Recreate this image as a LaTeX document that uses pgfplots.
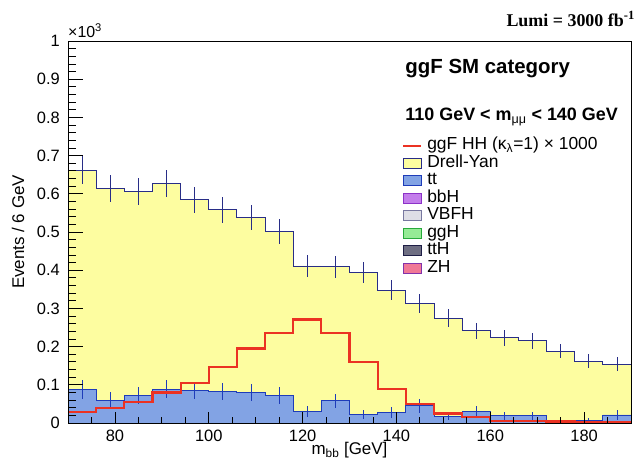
\documentclass[border=0pt]{standalone}
\usepackage{fontspec}
\setmainfont{Liberation Sans}
\newfontfamily\serifbf{Liberation Serif}
\usepackage{pgfplots}
\pgfplotsset{compat=1.18}

\definecolor{dyfill}{RGB}{253,253,160}
\definecolor{dyline}{RGB}{40,45,135}
\definecolor{ttfill}{RGB}{130,163,228}
\definecolor{ttline}{RGB}{30,60,185}
\definecolor{hhred}{RGB}{235,50,35}
\definecolor{bbhfill}{RGB}{195,125,235}
\definecolor{bbhline}{RGB}{140,50,200}
\definecolor{vbffill}{RGB}{222,222,230}
\definecolor{vbfline}{RGB}{120,120,160}
\definecolor{gghfill}{RGB}{150,235,150}
\definecolor{gghline}{RGB}{40,170,60}
\definecolor{tthfill}{RGB}{110,110,130}
\definecolor{tthline}{RGB}{30,30,70}
\definecolor{zhfill}{RGB}{240,120,150}
\definecolor{zhline}{RGB}{130,50,170}

\pgfplotsset{
  myarea/.style={legend image code/.code={\draw[##1] (0bp,-5bp) rectangle (18bp,5bp);}},
  myline/.style={legend image code/.code={\draw[##1] (0bp,0bp) -- (18bp,0bp);}},
  tickbars/.style={draw=none, mark=none, forget plot,
    error bars/error mark=none,
    error bars/error bar style={draw=black, solid, line width=0.8bp}},
}

\begin{document}
\begin{tikzpicture}
\path[use as bounding box] (0,0) rectangle (638bp,463bp);
\begin{axis}[
  at={(68bp,40bp)}, anchor=south west,
  scale only axis, width=563bp, height=382bp,
  xmin=70, xmax=190, ymin=0, ymax=1,
  axis on top,
  xtick={80,100,120,140,160,180},
  xticklabels={80,100,120,140,160,180},
  ytick={0,0.1,0.2,0.3,0.4,0.5,0.6,0.7,0.8,0.9,1},
  yticklabels={0,0.1,0.2,0.3,0.4,0.5,0.6,0.7,0.8,0.9,1},
  tick style={draw=none},
  axis line style={line width=0.8bp},
  ticklabel style={font=\fontsize{16.5}{19}\selectfont},
  xticklabel style={inner sep=0pt, yshift=-7bp},
  yticklabel style={inner sep=0pt, xshift=-8bp},
  xlabel={m\textsubscript{bb} [GeV]},
  ylabel={Events / 6 GeV},
  label style={font=\fontsize{17}{20}\selectfont},
  xlabel style={at={(axis description cs:0.5,-0.0707)}, anchor=center},
  ylabel style={at={(axis description cs:-0.0888,0.5)}, anchor=center},
  legend style={at={(0.593,0.749)}, anchor=north west, draw=none, fill=none,
    inner sep=0pt, row sep=0pt,
    font=\fontsize{17.5}{20}\selectfont,
    nodes={inner sep=0pt, text height=12.6bp, text depth=4.9bp},
    column sep=5bp},
  legend cell align=left,
]
% Drell-Yan stacked on ttbar: upper edge of the stack
\addplot[const plot, fill=dyfill, draw=dyline, line width=0.9bp, mark=none, forget plot] coordinates {
(70,0.662) (76,0.614) (82,0.606) (88,0.627) (94,0.584) (100,0.558) (106,0.537) (112,0.501)
(118,0.411) (124,0.409) (130,0.394) (136,0.348) (142,0.312) (148,0.274) (154,0.241)
(160,0.223) (166,0.215) (172,0.188) (178,0.162) (184,0.154) (190,0.154)} \closedcycle;
% ttbar
\addplot[const plot, fill=ttfill, draw=ttline, line width=0.9bp, mark=none, forget plot] coordinates {
(70,0.088) (76,0.060) (82,0.073) (88,0.089) (94,0.085) (100,0.082) (106,0.080) (112,0.073)
(118,0.030) (124,0.058) (130,0.022) (136,0.028) (142,0.045) (148,0.017) (154,0.030)
(160,0.019) (166,0.019) (172,0.006) (178,0.006) (184,0.021) (190,0.021)} \closedcycle;
% error bars on total
\addplot[draw=none, mark=none, forget plot, error bars/.cd, y dir=both, y explicit, error mark=none,
  error bar style={draw=dyline, solid, line width=0.8bp}] coordinates {
(73,0.662) +- (0,0.037) (79,0.614) +- (0,0.035) (85,0.606) +- (0,0.035) (91,0.627) +- (0,0.036)
(97,0.584) +- (0,0.034) (103,0.558) +- (0,0.034) (109,0.537) +- (0,0.033) (115,0.501) +- (0,0.032)
(121,0.411) +- (0,0.029) (127,0.409) +- (0,0.029) (133,0.394) +- (0,0.028) (139,0.348) +- (0,0.027)
(145,0.312) +- (0,0.025) (151,0.274) +- (0,0.024) (157,0.241) +- (0,0.022) (163,0.223) +- (0,0.021)
(169,0.215) +- (0,0.021) (175,0.188) +- (0,0.019) (181,0.162) +- (0,0.018) (187,0.154) +- (0,0.018)};
% error bars on ttbar
\addplot[draw=none, mark=none, forget plot, error bars/.cd, y dir=both, y explicit, error mark=none,
  error bar style={draw=ttline, solid, line width=0.8bp}] coordinates {
(73,0.088) +- (0,0.024) (79,0.060) +- (0,0.020) (85,0.073) +- (0,0.022) (91,0.089) +- (0,0.024)
(97,0.085) +- (0,0.023) (103,0.082) +- (0,0.023) (109,0.080) +- (0,0.022) (115,0.073) +- (0,0.022)
(121,0.030) +- (0,0.014) (127,0.058) +- (0,0.019) (133,0.022) +- (0,0.012) (139,0.028) +- (0,0.014)
(145,0.045) +- (0,0.018) (151,0.017) +- (0,0.010) (157,0.030) +- (0,0.014) (163,0.019) +- (0,0.011)
(169,0.019) +- (0,0.011) (175,0.006) +- (0,0.006) (181,0.006) +- (0,0.006) (187,0.021) +- (0,0.012)};
% ggF HH x 1000
\addplot[const plot, draw=hhred, line width=2.2bp, mark=none, forget plot] coordinates {
(70,0.028) (76,0.040) (82,0.054) (88,0.080) (94,0.104) (100,0.147) (106,0.195) (112,0.235)
(118,0.271) (124,0.235) (130,0.160) (136,0.089) (142,0.049) (148,0.025) (154,0.015)
(160,0.006) (166,0.005) (172,0.004) (178,0.003) (184,0.003) (190,0.003)};

% axis ticks (ROOT style, inside)
\addplot[tickbars, error bars/x dir=plus, error bars/x explicit] coordinates {
(70,0.1) +- (3.2,0) (70,0.2) +- (3.2,0) (70,0.3) +- (3.2,0) (70,0.4) +- (3.2,0) (70,0.5) +- (3.2,0)
(70,0.6) +- (3.2,0) (70,0.7) +- (3.2,0) (70,0.8) +- (3.2,0) (70,0.9) +- (3.2,0)};
\addplot[tickbars, error bars/x dir=plus, error bars/x explicit] coordinates {
(70,0.02) +- (1.6,0) (70,0.04) +- (1.6,0) (70,0.06) +- (1.6,0) (70,0.08) +- (1.6,0)
(70,0.12) +- (1.6,0) (70,0.14) +- (1.6,0) (70,0.16) +- (1.6,0) (70,0.18) +- (1.6,0)
(70,0.22) +- (1.6,0) (70,0.24) +- (1.6,0) (70,0.26) +- (1.6,0) (70,0.28) +- (1.6,0)
(70,0.32) +- (1.6,0) (70,0.34) +- (1.6,0) (70,0.36) +- (1.6,0) (70,0.38) +- (1.6,0)
(70,0.42) +- (1.6,0) (70,0.44) +- (1.6,0) (70,0.46) +- (1.6,0) (70,0.48) +- (1.6,0)
(70,0.52) +- (1.6,0) (70,0.54) +- (1.6,0) (70,0.56) +- (1.6,0) (70,0.58) +- (1.6,0)
(70,0.62) +- (1.6,0) (70,0.64) +- (1.6,0) (70,0.66) +- (1.6,0) (70,0.68) +- (1.6,0)
(70,0.72) +- (1.6,0) (70,0.74) +- (1.6,0) (70,0.76) +- (1.6,0) (70,0.78) +- (1.6,0)
(70,0.82) +- (1.6,0) (70,0.84) +- (1.6,0) (70,0.86) +- (1.6,0) (70,0.88) +- (1.6,0)
(70,0.92) +- (1.6,0) (70,0.94) +- (1.6,0) (70,0.96) +- (1.6,0) (70,0.98) +- (1.6,0)};
\addplot[tickbars, error bars/y dir=plus, error bars/y explicit] coordinates {
(80,0) +- (0,0.029) (100,0) +- (0,0.029) (120,0) +- (0,0.029) (140,0) +- (0,0.029)
(160,0) +- (0,0.029) (180,0) +- (0,0.029)};
\addplot[tickbars, error bars/y dir=plus, error bars/y explicit] coordinates {
(75,0) +- (0,0.0145) (85,0) +- (0,0.0145) (90,0) +- (0,0.0145) (95,0) +- (0,0.0145)
(105,0) +- (0,0.0145) (110,0) +- (0,0.0145) (115,0) +- (0,0.0145) (125,0) +- (0,0.0145)
(130,0) +- (0,0.0145) (135,0) +- (0,0.0145) (145,0) +- (0,0.0145) (150,0) +- (0,0.0145)
(155,0) +- (0,0.0145) (165,0) +- (0,0.0145) (170,0) +- (0,0.0145) (175,0) +- (0,0.0145)
(185,0) +- (0,0.0145)};

\addlegendimage{myline, draw=hhred, line width=2.2bp}
\addlegendentry{ggF HH (κ\textsubscript{λ}=1) × 1000}
\addlegendimage{myarea, fill=dyfill, draw=dyline, line width=0.8bp}
\addlegendentry{Drell-Yan}
\addlegendimage{myarea, fill=ttfill, draw=ttline, line width=0.8bp}
\addlegendentry{tt}
\addlegendimage{myarea, fill=bbhfill, draw=bbhline, line width=0.8bp}
\addlegendentry{bbH}
\addlegendimage{myarea, fill=vbffill, draw=vbfline, line width=0.8bp}
\addlegendentry{VBFH}
\addlegendimage{myarea, fill=gghfill, draw=gghline, line width=0.8bp}
\addlegendentry{ggH}
\addlegendimage{myarea, fill=tthfill, draw=tthline, line width=0.8bp}
\addlegendentry{ttH}
\addlegendimage{myarea, fill=zhfill, draw=zhline, line width=0.8bp}
\addlegendentry{ZH}

\node[anchor=west, inner sep=0pt, font=\bfseries\fontsize{20.5}{24}\selectfont]
  at (rel axis cs:0.599,0.929) {ggF SM category};
\node[anchor=west, inner sep=0pt, font=\bfseries\fontsize{18}{21}\selectfont]
  at (rel axis cs:0.599,0.801) {110 GeV < m\textsubscript{\mdseries μμ} < 140 GeV};
\end{axis}
\node[anchor=south west, inner sep=0pt, font=\fontsize{16}{18}\selectfont]
  at (68bp,425bp) {×10\textsuperscript{3}};
\node[anchor=east, inner sep=0pt, font=\serifbf\bfseries\fontsize{18}{21}\selectfont]
  at (635bp,444bp) {Lumi = 3000 fb\textsuperscript{-1}};
\end{tikzpicture}
\end{document}
